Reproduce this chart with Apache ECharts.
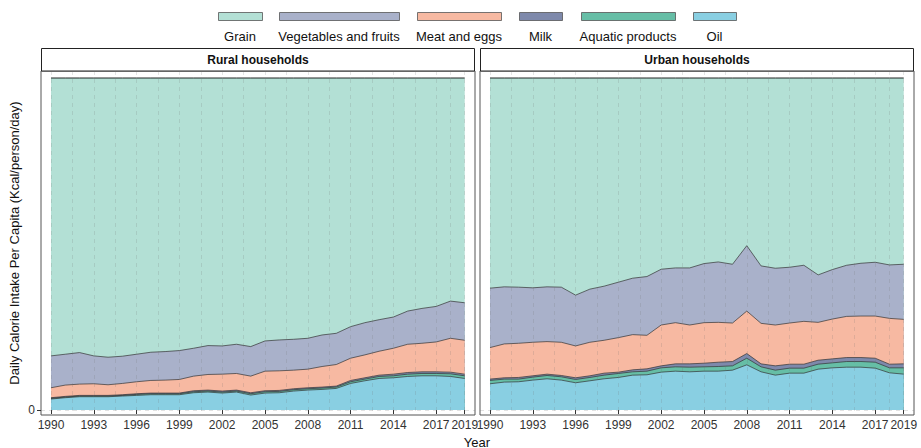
<!DOCTYPE html>
<html>
<head>
<meta charset="utf-8">
<script src="https://cdn.jsdelivr.net/npm/echarts@6/dist/echarts.min.js"></script>
<style>
html,body{margin:0;padding:0;background:#fff;}
#chart{width:921px;height:448px;}
</style>
</head>
<body>
<div id="chart"></div>
<script>
// ---------------- DATA (share of daily calorie intake, %) ----------------
const years = [1990,1991,1992,1993,1994,1995,1996,1997,1998,1999,2000,2001,2002,2003,2004,2005,2006,2007,2008,2009,2010,2011,2012,2013,2014,2015,2016,2017,2018,2019];

const categories = ["Grain","Vegetables and fruits","Meat and eggs","Milk","Aquatic products","Oil"];

// Rural households
const ruralOil     = [3.3,3.7,4.0,4.0,4.0,4.2,4.4,4.6,4.6,4.6,5.2,5.4,5.1,5.4,4.5,5.1,5.2,5.7,6.0,6.2,6.5,8.0,8.8,9.5,9.7,10.1,10.3,10.3,10.1,9.5];
const ruralAquatic = [0.2,0.2,0.2,0.2,0.2,0.2,0.3,0.3,0.3,0.3,0.3,0.3,0.3,0.3,0.4,0.4,0.4,0.4,0.4,0.4,0.4,0.5,0.5,0.6,0.6,0.7,0.7,0.7,0.8,0.8];
const ruralMilk    = [0.2,0.2,0.2,0.2,0.2,0.2,0.2,0.2,0.2,0.2,0.3,0.3,0.3,0.3,0.3,0.3,0.3,0.3,0.3,0.3,0.3,0.4,0.4,0.4,0.5,0.5,0.5,0.5,0.5,0.5];
const ruralMeat    = [3.0,3.4,3.4,3.5,3.2,3.4,3.6,3.8,3.9,4.1,4.4,4.7,5.1,5.0,5.0,5.9,5.9,5.6,5.6,6.2,6.5,6.7,6.9,7.2,7.8,8.5,8.6,9.0,10.2,10.2];
const ruralVeg     = [9.6,9.3,9.5,8.4,8.3,8.2,8.3,8.5,8.6,8.7,8.4,8.7,8.5,8.8,8.9,9.1,9.3,9.3,9.3,9.5,9.4,9.5,9.7,9.5,9.4,10.0,10.5,10.7,11.2,11.3];
const ruralGrain   = [83.7,83.2,82.7,83.7,84.1,83.8,83.2,82.6,82.4,82.1,81.4,80.6,80.7,80.2,80.9,79.2,78.9,78.7,78.4,77.4,76.9,74.9,73.7,72.8,72.0,70.2,69.4,68.8,67.2,67.7];

// Urban households
const urbanOil     = [7.9,8.4,8.5,9.0,9.4,9.0,8.2,8.8,9.4,9.8,10.5,10.6,11.4,11.7,11.5,11.7,11.7,12.0,13.6,11.5,10.5,11.1,11.1,12.3,12.7,12.9,12.9,12.6,11.2,10.8];
const urbanAquatic = [1.0,0.9,0.8,0.9,1.0,1.0,1.0,1.0,1.1,1.2,1.0,1.1,1.3,1.3,1.4,1.3,1.4,1.3,2.0,1.5,1.5,1.5,1.5,1.5,1.5,1.7,1.7,1.8,1.5,1.9];
const urbanMilk    = [0.4,0.4,0.5,0.4,0.4,0.4,0.5,0.5,0.6,0.4,0.6,0.7,0.6,0.9,1.0,1.1,1.3,1.3,1.4,0.9,1.3,1.2,1.2,1.2,1.2,1.2,1.2,1.2,1.1,1.2];
const urbanMeat    = [9.5,10.2,10.3,10.1,9.8,10.0,9.6,10.1,9.9,10.4,10.6,10.1,12.3,12.4,11.7,12.2,12.0,11.6,12.8,12.2,12.3,12.4,12.9,11.4,12.0,12.4,12.5,12.7,13.8,13.4];
const urbanVeg     = [17.9,17.2,16.9,16.4,16.5,16.6,15.3,16.0,16.3,16.7,17.0,17.7,16.8,16.5,17.2,17.8,18.2,17.7,19.7,17.3,17.1,16.8,16.9,14.3,14.9,15.4,15.9,16.2,16.1,16.6];
const urbanGrain   = [63.3,62.9,63.0,63.2,62.9,63.0,65.4,63.6,62.7,61.5,60.3,59.8,57.6,57.2,57.2,55.9,55.4,56.1,50.5,56.6,57.3,57.0,56.4,59.3,57.7,56.4,55.8,55.5,56.3,56.1];

const xTickLabels = [1990,1993,1996,1999,2002,2005,2008,2011,2014,2017,2019];
const xGridLines  = [1990,1991.5,1993,1994.5,1996,1997.5,1999,2000.5,2002,2003.5,2005,2006.5,2008,2009.5,2011,2012.5,2014,2015.5,2017,2018,2019];
const yTickLabels = [0];

const panels = ["Rural households","Urban households"];

// ---------------- STYLE ----------------
const colors = {
  "Grain": "#b3e0d5",
  "Vegetables and fruits": "#a9b1ca",
  "Meat and eggs": "#f7b9a2",
  "Milk": "#7e89ab",
  "Aquatic products": "#66bea6",
  "Oil": "#89cfe2"
};
const FONT = "'Liberation Sans', Arial, sans-serif";

const ruralData = {"Grain":ruralGrain,"Vegetables and fruits":ruralVeg,"Meat and eggs":ruralMeat,"Milk":ruralMilk,"Aquatic products":ruralAquatic,"Oil":ruralOil};
const urbanData = {"Grain":urbanGrain,"Vegetables and fruits":urbanVeg,"Meat and eggs":urbanMeat,"Milk":urbanMilk,"Aquatic products":urbanAquatic,"Oil":urbanOil};

const gridLefts = [41, 480];
const gridW = 434;
const gridTop = 71, gridH = 344;
const xMin = 1989.3, xMax = 2019.72;
const yMin = -1.506, yMax = 102.11;

const grids = gridLefts.map(l => ({left:l, top:gridTop, width:gridW, height:gridH, show:true, borderColor:'#555', borderWidth:1, backgroundColor:'#fff', containLabel:false}));

const xAxes = [];
const yAxes = [];
[0,1].forEach(g => {
  xAxes.push({
    type:'value', gridIndex:g, min:xMin, max:xMax,
    axisLine:{show:false},
    axisTick:{show:true, customValues:xTickLabels, length:4, lineStyle:{color:'#333'}},
    axisLabel:{show:true, customValues:xTickLabels, color:'#333', fontSize:12, fontFamily:FONT, margin:4, formatter: v => String(v)},
    splitLine:{show:false}
  });
  xAxes.push({
    type:'value', gridIndex:g, min:xMin, max:xMax, z:5,
    axisLine:{show:false}, axisLabel:{show:false},
    axisTick:{show:false, customValues:xGridLines},
    splitLine:{show:true, lineStyle:{color:'rgba(110,110,110,0.18)', type:[4,4], width:1}}
  });
  yAxes.push({
    type:'value', gridIndex:g, min:yMin, max:yMax,
    axisLine:{show:false},
    axisTick:{show:g===0, customValues:yTickLabels, length:4, lineStyle:{color:'#333'}},
    axisLabel:{show:g===0, customValues:yTickLabels, color:'#333', fontSize:12, fontFamily:FONT, margin:6},
    splitLine:{show:true, lineStyle:{color:'rgba(110,110,110,0.2)', type:[4,4]}},
    name: g===0 ? 'Daily Calorie Intake Per Capita (Kcal/person/day)' : '',
    nameLocation:'middle', nameGap:20,
    nameTextStyle:{color:'#111', fontSize:13, fontFamily:FONT}
  });
});

// Layers stacked bottom -> top. ECharts stacks on x for value/value axes,
// so each layer is drawn as the cumulative total from 0, largest first,
// so that each later layer paints over the lower part of the previous one.
const stackOrder = ["Oil","Aquatic products","Milk","Meat and eggs","Vegetables and fruits","Grain"];
const series = [];
[ruralData, urbanData].forEach((d, g) => {
  const cum = {};
  let run = years.map(() => 0);
  stackOrder.forEach(name => {
    run = run.map((v, i) => v + d[name][i]);
    cum[name] = run.slice();
  });
  stackOrder.slice().reverse().forEach(name => {
    series.push({
      name, type:'line', xAxisIndex:g*2, yAxisIndex:g,
      data: years.map((y,i) => [y, cum[name][i]]),
      symbol:'none', showSymbol:false, smooth:false,
      itemStyle:{color:colors[name]},
      lineStyle:{color: name === 'Grain' ? '#111' : '#333', width: name === 'Grain' ? 0.9 : 0.7},
      areaStyle:{color:colors[name], opacity:1, origin:0},
      emphasis:{disabled:true},
      z:2
    });
  });
});

// legend keys (different widths, labels below keys)
const legendKeys = [
  {name:"Grain", left:218, w:44},
  {name:"Vegetables and fruits", left:279, w:120},
  {name:"Meat and eggs", left:417, w:84},
  {name:"Milk", left:519, w:43},
  {name:"Aquatic products", left:581, w:94},
  {name:"Oil", left:693, w:43}
];

const graphics = [];
legendKeys.forEach(k => {
  graphics.push({type:'rect', shape:{x:k.left+0.5, y:12.5, width:k.w, height:8},
    style:{fill:colors[k.name], stroke:'#555', lineWidth:0.8}});
  graphics.push({type:'text', x:k.left + k.w/2, y:36.5,
    style:{text:k.name, fill:'#111', font:'13px ' + FONT, textAlign:'center', textVerticalAlign:'middle'}});
});
panels.forEach((p, g) => {
  graphics.push({type:'rect', shape:{x:gridLefts[g]+0.5, y:48.5, width:gridW-1, height:22.5},
    style:{fill:'#fff', stroke:'#222', lineWidth:1}});
  graphics.push({type:'text', x:gridLefts[g] + gridW/2, y:60,
    style:{text:p, fill:'#111', font:'bold 12px ' + FONT, textAlign:'center', textVerticalAlign:'middle'}});
});
graphics.push({type:'text', x:477, y:442,
  style:{text:'Year', fill:'#111', font:'13px ' + FONT, textAlign:'center', textVerticalAlign:'middle'}});

const chart = echarts.init(document.getElementById('chart'), null, {renderer:'svg'});
chart.setOption({
  animation:false,
  backgroundColor:'#fff',
  textStyle:{fontFamily:FONT},
  grid:grids,
  xAxis:xAxes,
  yAxis:yAxes,
  series:series,
  graphic:graphics
});
</script>
</body>
</html>
